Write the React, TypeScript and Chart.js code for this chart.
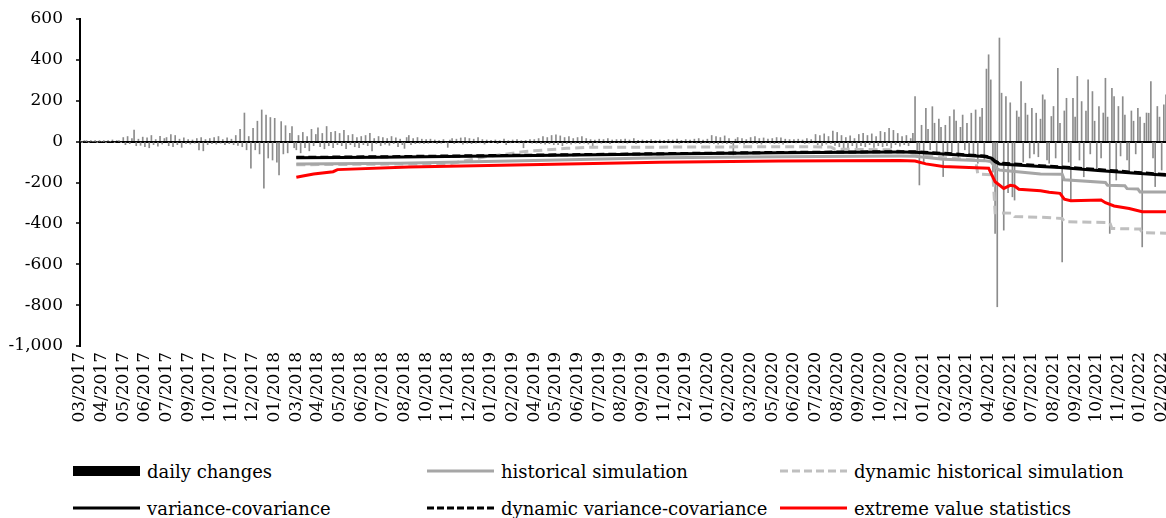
import React, { useEffect, useRef } from 'react';
import { Chart, registerables } from 'chart.js';

Chart.register(...registerables);

// Tick labels (one every 10 data steps)
const tickLabels = [
  '03/2017', '04/2017', '05/2017', '06/2017', '07/2017', '09/2017', '10/2017', '11/2017', '12/2017', '01/2018',
  '03/2018', '04/2018', '05/2018', '06/2018', '07/2018', '08/2018', '10/2018', '11/2018', '12/2018', '01/2019',
  '02/2019', '04/2019', '05/2019', '06/2019', '07/2019', '08/2019', '09/2019', '11/2019', '12/2019', '01/2020',
  '02/2020', '03/2020', '05/2020', '06/2020', '07/2020', '08/2020', '09/2020', '10/2020', '12/2020', '01/2021',
  '02/2021', '03/2021', '04/2021', '06/2021', '07/2021', '08/2021', '09/2021', '10/2021', '11/2021', '01/2022',
  '02/2022',
];

// Daily changes (sampled), index = time step
const dailyChanges = [
  2, -1, 3, 1, -2, 2, 0, 1, -1, 2,
  0, 1, -2, 3, 0, 8, -3, 5, 2, -4,
  20, -15, 25, -10, 15, 57, -20, 12, -18, 22,
  -25, 18, -30, 30, -15, 10, -22, 26, -12, 15,
  20, -20, 35, -25, 30, -15, 12, -28, 18, -10,
  10, -12, 8, -8, 15, -40, 20, -45, 10, -15,
  15, -10, 20, -12, 25, -8, 10, -15, 18, -10,
  12, -15, 30, -18, 60, -25, 140, -40, 25, -130,
  65, -40, 100, -60, 155, -228, 130, -80, 118, -90,
  114, -100, -163, 98, -60, 78, -55, 40, 74, -30,
  -40, 30, -55, 45, -30, 25, -45, 60, -20, 35,
  67, -25, 40, -35, 74, -20, 45, -30, 50, -15,
  40, -20, 55, -35, 30, -15, 35, -25, 20, -30,
  25, -15, 30, -20, 40, -45, 15, -10, 25, -20,
  20, -12, 15, -18, 25, -10, 18, -25, 12, -15,
  -33, 20, 30, -15, 15, -10, 20, -8, 12, -10,
  10, -8, 12, -6, 8, -10, 5, -8, 10, -5,
  -28, 8, 15, -10, 12, -6, 18, -12, 20, -8,
  15, -10, 12, -8, 20, -6, 10, -12, 8, -5,
  6, -4, 8, -10, 5, -3, 12, -15, 4, -6,
  8, -5, 10, -6, 4, -30, 6, -4, 10, -8,
  10, -8, 15, -10, 25, -12, 20, -10, 30, -15,
  33, -15, 28, -20, 20, -10, 25, -12, 15, -8,
  20, -10, 25, -8, 15, -12, 10, -30, 8, -6,
  12, -8, 10, -6, 15, -10, 8, -5, 10, -6,
  10, -6, 12, -8, 8, -5, 15, -10, 6, -4,
  8, -5, 6, -4, 10, -6, 5, -3, 8, -5,
  6, -4, 10, -6, 8, -5, 12, -8, 6, -4,
  10, -6, 8, -5, 12, -8, 15, -10, 8, -6,
  12, -8, 30, -10, 25, -12, 20, -8, 28, -10,
  15, -10, -65, 12, 20, -8, 15, -12, 10, -6,
  20, -8, 25, -10, 15, -12, 18, -6, 12, -8,
  15, -10, 20, -8, 18, -12, 12, -6, 10, -5,
  10, -6, 12, -5, 8, -10, 15, -8, 10, -6,
  35, -15, 30, -20, 38, -12, 25, -10, 52, -18,
  45, -25, 30, -38, 20, -35, 28, -20, 15, -30,
  35, -20, 40, -25, 30, -15, 38, -28, 25, -20,
  50, -25, 45, -20, 65, -30, 55, -15, 40, -22,
  25, -15, 30, -20, 15, 40, 220, -60, -212, 80,
  -106, 163, 60, -40, 171, 90, -50, 110, 70, -171,
  80, -60, 123, -50, 155, 100, -80, 70, 130, -40,
  90, -70, 139, -60, 155, -106, 120, 163, -90, 355,
  425, 302, -150, -449, -808, 507, 237, -433, 220, -250,
  190, -270, -286, 150, 120, 294, -100, 188, 130, -80,
  163, -60, 139, -74, 110, 229, 204, -90, -106, 123,
  172, -80, 359, 90, -588, 150, 212, -100, -286, 212,
  120, 319, -90, 196, -172, 150, 302, -60, 245, 100,
  -139, 172, -80, 140, 310, 120, -449, 261, 220, -188,
  172, -70, 220, 130, -90, -139, 150, 100, -60, 163,
  120, -515, 90, 140, 139, 294, -80, -220, 172, 120,
  -139, 180, 229,
];

// [time step, value]
const historicalSimulation: [number, number][] = [
  [100, -110], [148, -106], [210, -92], [268, -79], [323, -74], [379, -70], [386, -71], [399, -86],
  [418, -93], [421, -97], [423, -125], [425, -139], [444, -158], [454, -160], [455, -187], [474, -200],
  [475, -214], [483, -216], [484, -230], [489, -232], [490, -246], [502, -247],
];

const dynamicHistoricalSimulation: [number, number][] = [
  [100, -113], [171, -108], [188, -73], [207, -47], [225, -33], [234, -28], [268, -27], [323, -25],
  [347, -26], [349, -37], [375, -40], [395, -75], [414, -90], [415, -158], [422, -162], [423, -348],
  [431, -350], [432, -367], [444, -370], [454, -376], [455, -392], [476, -396], [477, -425], [490, -428],
  [491, -446], [502, -448],
];

const varianceCovariance: [number, number][] = [
  [100, -79], [139, -76], [210, -68], [268, -61], [323, -55], [379, -51], [386, -52], [399, -60],
  [418, -73], [421, -80], [423, -98], [425, -109], [444, -122], [453, -127], [472, -142], [485, -152],
  [502, -165],
];

const dynamicVarianceCovariance: [number, number][] = [
  [100, -77], [139, -74], [210, -66], [268, -59], [323, -53], [379, -49], [386, -50], [399, -57],
  [418, -70], [421, -77], [423, -95], [425, -105], [444, -118], [453, -123], [472, -138], [485, -148],
  [502, -161],
];

const extremeValueStatistics: [number, number][] = [
  [100, -174], [103, -168], [108, -158], [117, -147], [119, -137], [152, -124], [268, -101], [323, -95],
  [379, -92], [386, -95], [391, -109], [399, -122], [411, -127], [420, -130], [423, -196], [427, -229],
  [430, -214], [432, -217], [434, -233], [444, -240], [448, -248], [453, -253], [455, -282], [458, -289],
  [472, -286], [474, -299], [478, -315], [485, -327], [491, -343], [502, -343],
];

const FONT = "'DejaVu Serif', serif";
const CANVAS_W = 1166;
const CANVAS_H = 450;

const legendItems = [
  { label: 'daily changes', kind: 'bar', color: '#000', dash: '', left: 73, top: 471 },
  { label: 'historical simulation', kind: 'line', color: '#a6a6a6', dash: '', left: 427, top: 471 },
  { label: 'dynamic historical simulation', kind: 'line', color: '#bfbfbf', dash: '8 4', left: 780, top: 471 },
  { label: 'variance-covariance', kind: 'line', color: '#000', dash: '', left: 73, top: 508 },
  { label: 'dynamic variance-covariance', kind: 'line', color: '#000', dash: '7 3', left: 427, top: 508 },
  { label: 'extreme value statistics', kind: 'line', color: '#ff0000', dash: '', left: 780, top: 508 },
];

export default function App() {
  const ref = useRef<HTMLCanvasElement>(null);

  useEffect(() => {
    if (!ref.current) return;
    const pts = (arr: [number, number][]) => arr.map(([x, y]) => ({ x, y }));
    const lineBase = { type: 'line' as const, pointRadius: 0, borderWidth: 3, fill: false, tension: 0 };
    const chart = new Chart(ref.current, {
      type: 'bar',
      data: {
        datasets: [
          { ...lineBase, label: 'extreme value statistics', data: pts(extremeValueStatistics), borderColor: '#ff0000', order: 1 },
          { ...lineBase, label: 'dynamic variance-covariance', data: pts(dynamicVarianceCovariance), borderColor: '#000', borderDash: [8, 4], order: 3 },
          { ...lineBase, label: 'variance-covariance', data: pts(varianceCovariance), borderColor: '#000', order: 2 },
          { ...lineBase, label: 'dynamic historical simulation', data: pts(dynamicHistoricalSimulation), borderColor: '#bfbfbf', borderDash: [9, 5], order: 5 },
          { ...lineBase, label: 'historical simulation', data: pts(historicalSimulation), borderColor: '#a6a6a6', order: 4 },
          {
            type: 'bar',
            label: 'daily changes',
            data: dailyChanges.map((y, i) => ({ x: i, y })),
            backgroundColor: '#8c8c8c',
            barThickness: 1,
            order: 10,
          },
        ] as any,
      },
      options: {
        animation: false,
        responsive: false,
        devicePixelRatio: 1,
        layout: { padding: { top: 19, left: 0, right: 0, bottom: 0 } },
        plugins: { legend: { display: false }, tooltip: { enabled: false } },
        scales: {
          x: {
            type: 'linear',
            min: 0,
            max: 502,
            offset: false,
            grid: { display: false, drawTicks: false },
            border: { display: false },
            ticks: {
              autoSkip: false,
              maxRotation: 90,
              minRotation: 90,
              padding: 6,
              color: '#000',
              font: { family: FONT, size: 17 },
              callback: (v: any) => tickLabels[Math.round(Number(v) / 10)] ?? '',
            },
            afterBuildTicks: (s: any) => {
              s.ticks = tickLabels.map((_, k) => ({ value: k * 10 }));
            },
            afterFit: (s: any) => {
              s.height = CANVAS_H - 346;
              s.paddingLeft = 0;
              s.paddingRight = 0;
            },
          },
          y: {
            min: -1000,
            max: 600,
            ticks: {
              stepSize: 200,
              padding: 13,
              color: '#000',
              font: { family: FONT, size: 17 },
              callback: (v: any) => Number(v).toLocaleString('en-US'),
            },
            grid: {
              color: (c: any) => (c.tick && c.tick.value === 0 ? '#000' : 'rgba(0,0,0,0)'),
              lineWidth: 2,
              tickColor: '#000',
              tickWidth: 1.5,
              tickLength: 4,
              drawTicks: true,
            },
            border: { display: true, color: '#000', width: 2 },
            afterFit: (s: any) => {
              s.width = 80;
              s.paddingTop = 0;
              s.paddingBottom = 0;
            },
          },
        },
      } as any,
    });
    return () => chart.destroy();
  }, []);

  return (
    <div style={{ position: 'fixed', left: 0, top: 0, width: 1166, height: 518, background: '#fff', overflow: 'hidden' }}>
      <canvas ref={ref} width={CANVAS_W} height={CANVAS_H} style={{ position: 'absolute', left: 0, top: 0, width: CANVAS_W, height: CANVAS_H }} />
      {legendItems.map((it) => (
        <div
          key={it.label}
          style={{
            position: 'absolute',
            left: it.left,
            top: it.top - 12,
            height: 24,
            display: 'flex',
            alignItems: 'center',
            fontFamily: FONT,
            fontSize: 18,
            color: '#000',
            whiteSpace: 'nowrap',
          }}
        >
          <svg width={68} height={24} style={{ display: 'block' }}>
            {it.kind === 'bar' ? (
              <rect x={0} y={7} width={67} height={10} fill={it.color} />
            ) : (
              <line x1={0} y1={12} x2={67} y2={12} stroke={it.color} strokeWidth={3} strokeDasharray={it.dash || undefined} />
            )}
          </svg>
          <span style={{ marginLeft: 6 }}>{it.label}</span>
        </div>
      ))}
    </div>
  );
}
